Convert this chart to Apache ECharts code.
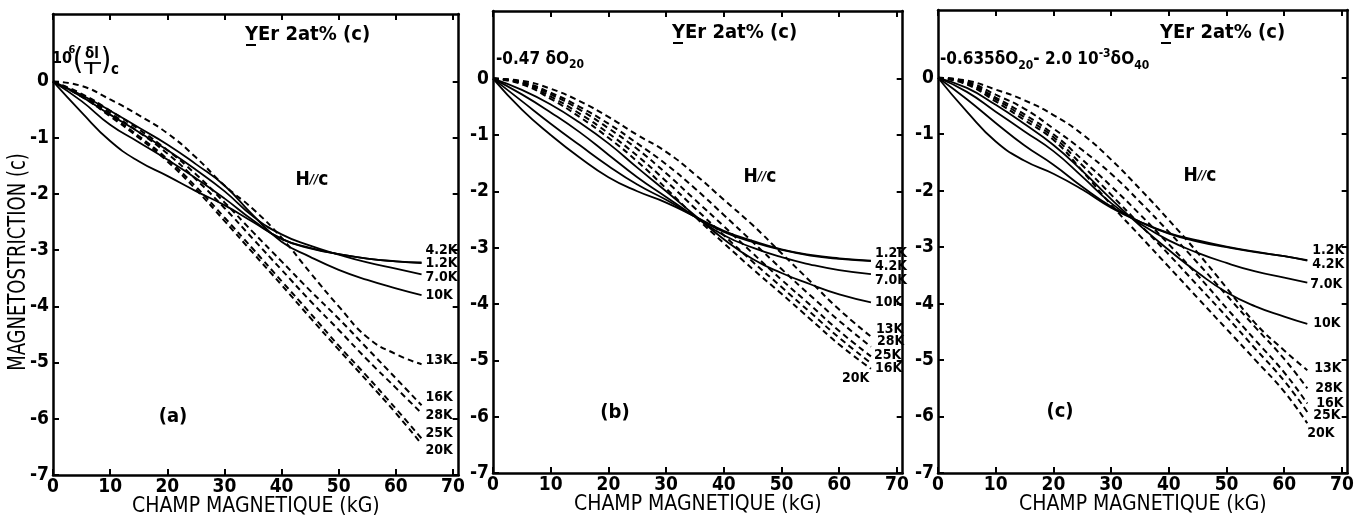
<!DOCTYPE html>
<html>
<head>
<meta charset="utf-8">
<script src="https://cdn.jsdelivr.net/npm/echarts@6/dist/echarts.min.js"></script>
<style>
  html, body { margin: 0; padding: 0; background: #fff; }
  #chart { width: 1368px; height: 526px; }
</style>
</head>
<body>
<div id="chart"></div>
<script>
// temperatures, in the order the curves are stored below
const temps = ['1.2K', '4.2K', '7.0K', '10K', '13K', '16K', '20K', '25K', '28K'];
const dashedTemps = ['13K', '16K', '20K', '25K', '28K'];
const xTicks = [0, 10, 20, 30, 40, 50, 60, 70];
const yTicks = [-7, -6, -5, -4, -3, -2, -1, 0];

// (a) measured
const fieldA = [0, 5, 10, 15, 20, 25, 30, 35, 40, 45, 50, 55, 60, 64.5];
const a1_2 = [0, -0.55, -1.06, -1.42, -1.68, -1.95, -2.2, -2.5, -2.8, -2.97, -3.07, -3.15, -3.2, -3.23];
const a4_2 = [0, -0.35, -0.77, -1.08, -1.39, -1.72, -2.08, -2.47, -2.8, -2.96, -3.07, -3.15, -3.2, -3.22];
const a7_0 = [0, -0.27, -0.59, -0.9, -1.22, -1.57, -1.95, -2.4, -2.72, -2.92, -3.08, -3.22, -3.33, -3.43];
const a10 = [0, -0.24, -0.52, -0.82, -1.12, -1.47, -1.85, -2.38, -2.85, -3.12, -3.35, -3.53, -3.68, -3.8];
const a13 = [0, -0.08, -0.32, -0.6, -0.92, -1.35, -1.85, -2.27, -2.78, -3.4, -4.0, -4.55, -4.85, -5.03];
const a16 = [0, -0.22, -0.52, -0.85, -1.22, -1.65, -2.15, -2.68, -3.2, -3.72, -4.22, -4.75, -5.28, -5.76];
const a20 = [0, -0.27, -0.62, -1.0, -1.42, -1.92, -2.48, -3.05, -3.62, -4.2, -4.77, -5.33, -5.9, -6.45];
const a25 = [0, -0.26, -0.6, -0.97, -1.38, -1.87, -2.42, -2.98, -3.55, -4.12, -4.7, -5.25, -5.82, -6.35];
const a28 = [0, -0.24, -0.56, -0.9, -1.28, -1.74, -2.25, -2.8, -3.35, -3.9, -4.42, -4.95, -5.45, -5.9];

// (b) calculated, -0.47 dO20
const fieldB = [0, 5, 10, 15, 20, 25, 30, 35, 40, 45, 50, 55, 60, 65.5];
const b1_2 = [0, -0.55, -1.0, -1.4, -1.75, -2.0, -2.2, -2.45, -2.7, -2.88, -3.03, -3.13, -3.19, -3.23];
const b4_2 = [0, -0.4, -0.8, -1.18, -1.55, -1.88, -2.15, -2.45, -2.72, -2.9, -3.04, -3.14, -3.2, -3.24];
const b7_0 = [0, -0.28, -0.6, -0.95, -1.35, -1.75, -2.1, -2.45, -2.78, -3.0, -3.17, -3.3, -3.4, -3.47];
const b10 = [0, -0.2, -0.46, -0.78, -1.15, -1.58, -2.0, -2.43, -2.85, -3.2, -3.45, -3.65, -3.83, -3.97];
const b13 = [0, -0.04, -0.18, -0.4, -0.68, -1.0, -1.3, -1.7, -2.15, -2.6, -3.1, -3.6, -4.1, -4.58];
const b16 = [0, -0.08, -0.32, -0.62, -0.97, -1.37, -1.82, -2.3, -2.78, -3.25, -3.7, -4.15, -4.6, -5.05];
const b20 = [0, -0.1, -0.36, -0.68, -1.05, -1.47, -1.95, -2.45, -2.92, -3.38, -3.82, -4.27, -4.72, -5.15];
const b25 = [0, -0.07, -0.28, -0.55, -0.88, -1.25, -1.68, -2.15, -2.62, -3.1, -3.57, -4.02, -4.48, -4.93];
const b28 = [0, -0.06, -0.25, -0.5, -0.8, -1.15, -1.52, -1.95, -2.42, -2.9, -3.38, -3.85, -4.3, -4.76];

// (c) calculated, -0.635 dO20 - 2.0e-3 dO40
const fieldC = [0, 5, 10, 15, 20, 25, 30, 35, 40, 45, 50, 55, 60, 64];
const c1_2 = [0, -0.6, -1.13, -1.47, -1.7, -1.98, -2.3, -2.55, -2.75, -2.88, -2.99, -3.08, -3.16, -3.23];
const c4_2 = [0, -0.38, -0.8, -1.2, -1.54, -1.93, -2.28, -2.55, -2.76, -2.9, -3.0, -3.09, -3.16, -3.24];
const c7_0 = [0, -0.25, -0.6, -0.95, -1.3, -1.75, -2.22, -2.58, -2.88, -3.1, -3.28, -3.43, -3.54, -3.63];
const c10 = [0, -0.18, -0.48, -0.82, -1.19, -1.65, -2.15, -2.62, -3.05, -3.45, -3.8, -4.05, -4.23, -4.36];
const c13 = [0, -0.05, -0.21, -0.4, -0.66, -1.0, -1.45, -1.97, -2.52, -3.1, -3.72, -4.35, -4.83, -5.18];
const c16 = [0, -0.09, -0.35, -0.65, -1.0, -1.45, -1.92, -2.42, -2.95, -3.5, -4.08, -4.65, -5.22, -5.77];
const c20 = [0, -0.12, -0.42, -0.75, -1.1, -1.65, -2.25, -2.8, -3.35, -3.9, -4.45, -5.0, -5.56, -6.12];
const c25 = [0, -0.1, -0.38, -0.7, -1.05, -1.55, -2.07, -2.6, -3.13, -3.68, -4.23, -4.8, -5.37, -5.92];
const c28 = [0, -0.07, -0.3, -0.55, -0.9, -1.28, -1.7, -2.2, -2.73, -3.28, -3.85, -4.42, -4.98, -5.5];

const FONT = '"Liberation Sans Narrow", "DejaVu Sans Condensed", sans-serif';

// layout of the three panels, and where each temperature label sits next to its curve end
const panels = [
  { field: fieldA, curves: [a1_2, a4_2, a7_0, a10, a13, a16, a20, a25, a28],
    grid: { left: 53, top: 14, width: 405.7, height: 461 },
    labelOffsets: [[2, 0], [2, -12], [2, 3], [2, 0], [2, -4], [2, -8], [2, 6], [2, -5], [2, 2]] },
  { field: fieldB, curves: [b1_2, b4_2, b7_0, b10, b13, b16, b20, b25, b28],
    grid: { left: 493, top: 11, width: 409.7, height: 462 },
    labelOffsets: [[2, -7], [2, 5], [2, 6], [2, 0], [3, -7], [2, 5], [-31, 10], [1, -1], [4, -5]] },
  { field: fieldC, curves: [c1_2, c4_2, c7_0, c10, c13, c16, c20, c25, c28],
    grid: { left: 938, top: 10, width: 409.7, height: 463 },
    labelOffsets: [[3, -10], [3, 4], [1, 2], [4, -1], [5, -2], [7, 0], [-2, 10], [4, 3], [6, 0]] }
];

const xAxes = [];
const yAxes = [];
const series = [];

panels.forEach((p, i) => {
  const line = { onZero: false, lineStyle: { color: '#000', width: 2.5 } };
  const tick = { inside: true, length: 6, lineStyle: { color: '#000', width: 2 } };
  const lbl = { color: '#000', fontFamily: FONT, fontWeight: 'bold', fontSize: 19 };
  xAxes.push({
    gridIndex: i, type: 'value', min: 0, max: 71, position: 'bottom',
    axisLine: line, axisTick: { ...tick, customValues: xTicks },
    axisLabel: { ...lbl, margin: 3, customValues: xTicks },
    splitLine: { show: false },
    name: 'CHAMP MAGNETIQUE (kG)', nameLocation: 'middle', nameGap: 21, nameMoveOverlap: false,
    nameTextStyle: { color: '#000', fontFamily: FONT, fontSize: 21 }
  });
  xAxes.push({
    gridIndex: i, type: 'value', min: 0, max: 71, position: 'top',
    axisLine: line, axisTick: { ...tick, customValues: xTicks },
    axisLabel: { show: false }, splitLine: { show: false }
  });
  yAxes.push({
    gridIndex: i, type: 'value', min: -7, max: 1.2, position: 'left',
    axisLine: line, axisTick: { ...tick, customValues: yTicks },
    axisLabel: { ...lbl, margin: 4, customValues: yTicks },
    splitLine: { show: false }
  });
  yAxes.push({
    gridIndex: i, type: 'value', min: -7, max: 1.2, position: 'right',
    axisLine: line, axisTick: { ...tick, customValues: yTicks },
    axisLabel: { show: false }, splitLine: { show: false }
  });

  temps.forEach((t, k) => {
    const dashed = dashedTemps.includes(t);
    series.push({
      type: 'line',
      name: t + ' ' + i,
      xAxisIndex: 2 * i,
      yAxisIndex: 2 * i,
      data: p.field.map((x, j) => [x, p.curves[k][j]]),
      smooth: 0.5,
      symbol: 'none',
      lineStyle: { color: '#000', width: dashed ? 2 : 1.8, type: dashed ? [6, 4] : 'solid' },
      endLabel: {
        show: true, formatter: t, distance: 2, offset: p.labelOffsets[k],
        color: '#000', fontFamily: FONT, fontWeight: 'bold', fontSize: 14
      }
    });
  });
});

// free text on the figure
function txt(x, y, text, size, extra) {
  const e = extra || {};
  return {
    type: 'text', x, y, scaleY: e.sy || 1, rotation: e.rot || 0, silent: true,
    style: {
      text, fill: '#000', fontFamily: FONT, fontWeight: e.weight || 'bold', fontSize: size,
      align: e.align || 'center', verticalAlign: 'middle',
      textAlign: e.align || 'center', textVerticalAlign: 'middle', rich: e.rich
    }
  };
}
function bar(x1, y1, x2, y2, w) {
  return { type: 'line', silent: true, shape: { x1, y1, x2, y2 }, style: { stroke: '#000', lineWidth: w || 1.5 } };
}
const sub = { fontSize: 12, fontWeight: 'bold', fontFamily: FONT, verticalAlign: 'bottom', padding: [10, 0, 0, 0] };
const sup = { fontSize: 12, fontWeight: 'bold', fontFamily: FONT, padding: [0, 0, 12, 0] };
const slash = { fontSize: 13, fontWeight: 'bold', fontFamily: FONT, fontStyle: 'italic' };

const graphic = [
  txt(18, 262, 'MAGNETOSTRICTION (c)', 20, { rot: Math.PI / 2, weight: 'normal', sy: 1.25 }),
  // panel (a) header
  txt(245, 35, 'YEr 2at% (c)', 20, { align: 'left' }), bar(246, 45, 256, 45, 2),
  txt(62, 59, '10', 16), txt(72, 50, '6', 11),
  txt(78, 61, '(', 30, { weight: 'normal' }),
  txt(92, 54, '\u03b4l', 15), bar(84, 63, 101, 63, 1.8), txt(91, 70, 'l', 15),
  txt(106, 61, ')', 30, { weight: 'normal' }), txt(115, 70, 'c', 15),
  txt(312, 180, 'H{s|//}c', 19, { rich: { s: slash } }),
  txt(173, 417, '(a)', 20),
  // panel (b) header
  txt(672, 33, 'YEr 2at% (c)', 20, { align: 'left' }), bar(673, 43, 683, 43, 2),
  txt(496, 60, '-0.47 \u03b4O{s|20}', 17, { align: 'left', rich: { s: sub } }),
  txt(760, 177, 'H{s|//}c', 19, { rich: { s: slash } }),
  txt(615, 413, '(b)', 20),
  // panel (c) header
  txt(1160, 33, 'YEr 2at% (c)', 20, { align: 'left' }), bar(1161, 43, 1171, 43, 2),
  txt(940, 60, '-0.635\u03b4O{s|20}- 2.0 10{p|-3}\u03b4O{s|40}', 17, { align: 'left', rich: { s: sub, p: sup } }),
  txt(1200, 176, 'H{s|//}c', 19, { rich: { s: slash } }),
  txt(1060, 412, '(c)', 20)
];

const chart = echarts.init(document.getElementById('chart'));
chart.setOption({
  animation: false,
  backgroundColor: '#fff',
  grid: panels.map((p) => ({ ...p.grid, containLabel: false, outerBoundsMode: 'none' })),
  xAxis: xAxes,
  yAxis: yAxes,
  series,
  graphic
});
</script>
</body>
</html>
